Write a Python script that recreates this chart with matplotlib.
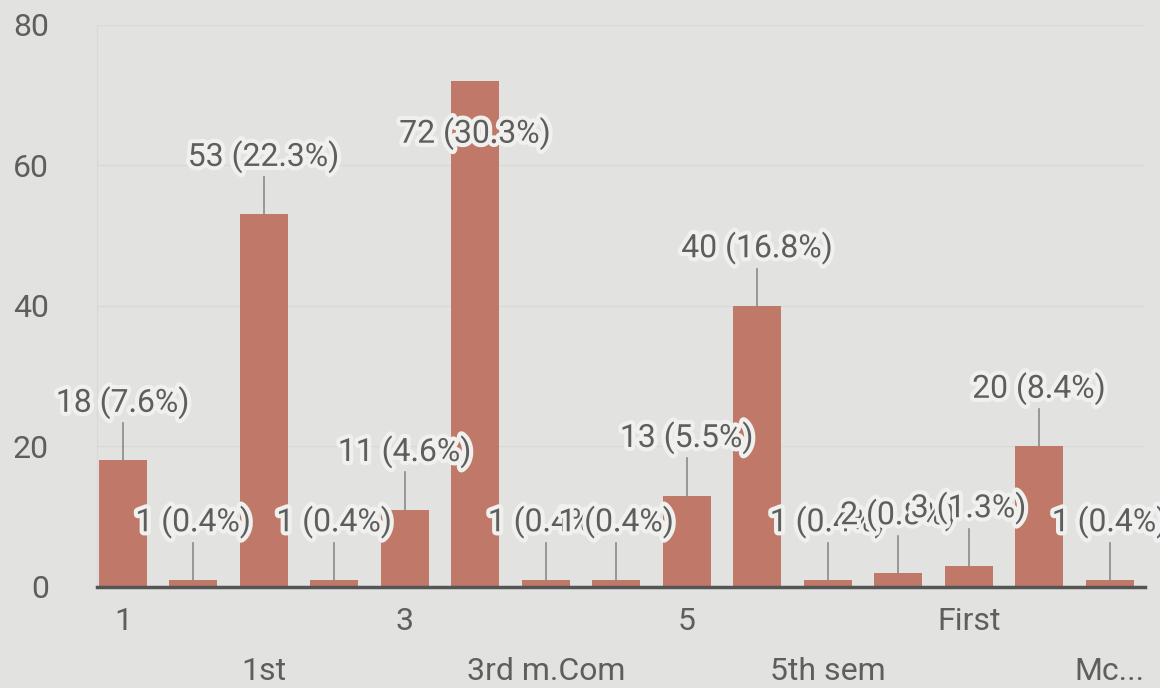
import matplotlib.pyplot as plt
import matplotlib.patheffects as pe

categories = ["1", "1 sem", "1st", "2", "3", "3rd", "3rd m.Com", "3rd sem",
              "5", "5th", "5th sem", "Final", "First", "M.Com", "Mc..."]
counts = [18, 1, 53, 1, 11, 72, 1, 1, 13, 40, 1, 2, 3, 20, 1]
y_ticks = [0, 20, 40, 60, 80]

total = sum(counts)
bg = "#e2e2e0"
bar_color = "#c07868"
text_color = "#5e5e5e"

plt.rcParams["font.family"] = ["Roboto", "DejaVu Sans"]
fig = plt.figure(figsize=(11.6, 6.88), dpi=100, facecolor=bg)
ax = fig.add_axes([0.084, 0.147, 0.903, 0.817], facecolor=bg)

x = list(range(len(counts)))
ax.bar(x, counts, width=0.68, color=bar_color, zorder=2)

halo = [pe.withStroke(linewidth=6, foreground="#f0f0ee")]
for i, v in enumerate(counts):
    label_y = min(v + 8.2, 64.5)
    if label_y > v:
        ax.plot([i, i], [v, v + 5.3], color="#8a8a8a", lw=1.2, zorder=3)
    ax.text(i, label_y, f"{v} ({v / total * 100:.1f}%)", ha="center", va="center",
            fontsize=23, color=text_color, path_effects=halo, zorder=4)

ax.set_xlim(-0.36, len(counts) - 0.5)
ax.set_ylim(0, 80)
ax.set_yticks(y_ticks)
ax.set_yticklabels([str(t) for t in y_ticks], fontsize=23, color=text_color)
ax.yaxis.grid(True, color="#d9d9d7", lw=1, zorder=0)

ax.set_xticks(x)
ax.set_xticklabels([])
for i in range(0, len(categories), 2):
    row = (i // 2) % 2
    ax.text(i, -5.0 - row * 7.0, categories[i], ha="center", va="center",
            fontsize=23, color=text_color)

ax.tick_params(axis="both", length=0)
ax.tick_params(axis="y", pad=35)
for side in ["top", "right"]:
    ax.spines[side].set_visible(False)
ax.spines["left"].set_color("#d9d9d7")
ax.spines["bottom"].set_color("#555555")
ax.spines["bottom"].set_linewidth(2.5)
ax.spines["bottom"].set_zorder(5)

plt.savefig("out.png", dpi=100, facecolor=bg)
plt.close()
